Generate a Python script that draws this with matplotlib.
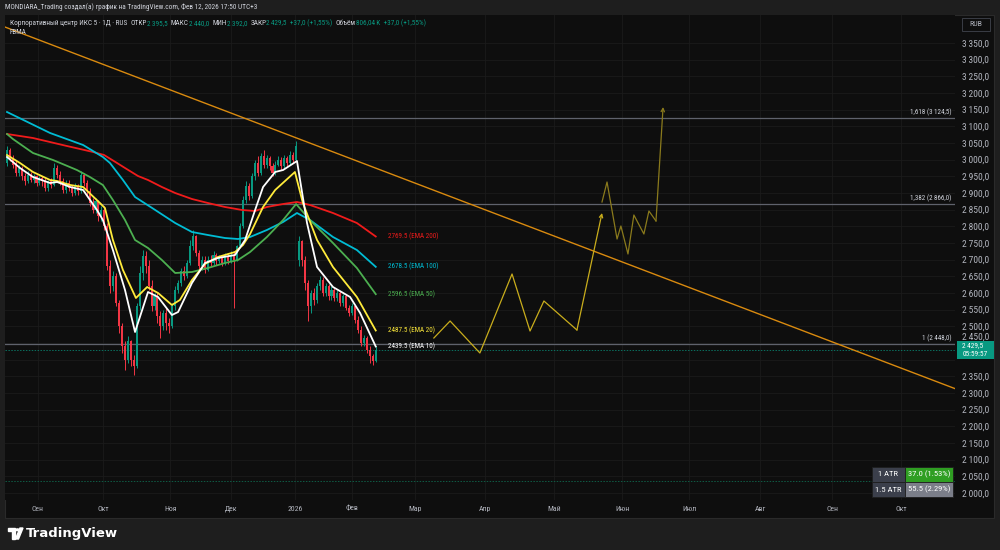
import numpy as np
import matplotlib
matplotlib.use('Agg')
import matplotlib.pyplot as plt
from matplotlib import font_manager as fm
from matplotlib.patches import Rectangle, Polygon, Circle

# daily candles, bar index 0 = first visible bar (end of Aug 2025) ... 125 = Feb 12 2026
opens = [2990, 3030, 3005, 2990, 2960, 2975, 2950, 2935, 2955, 2940,
         2950, 2930, 2945, 2935, 2915, 2935, 2925, 2975, 2955, 2935,
         2910, 2930, 2915, 2900, 2920, 2905, 2955, 2930, 2905, 2870,
         2850, 2875, 2830, 2850, 2800, 2680, 2620, 2650, 2570, 2500,
         2440, 2400, 2455, 2400, 2380, 2560, 2660, 2710, 2680, 2620,
         2560, 2590, 2530, 2500, 2540, 2510, 2500, 2560, 2610, 2630,
         2665, 2650, 2690, 2740, 2770, 2720, 2680, 2700, 2670, 2700,
         2690, 2715, 2695, 2705, 2690, 2710, 2695, 2715, 2700, 2740,
         2800, 2880, 2920, 2890, 2950, 2990, 2960, 3010, 2985, 3005,
         2980, 2960, 2985, 3000, 2980, 3005, 2990, 3015, 3000, 2700,
         2755, 2700, 2630, 2560, 2600, 2580, 2620, 2640, 2600, 2620,
         2590, 2610, 2585, 2600, 2570, 2590, 2555, 2540, 2560, 2520,
         2490, 2450, 2465, 2430, 2410, 2395.5]
highs = [3040, 3035, 3015, 3000, 2985, 2982, 2960, 2965, 2962, 2958,
         2955, 2952, 2950, 2945, 2940, 2945, 2990, 2985, 2965, 2945,
         2940, 2938, 2925, 2930, 2928, 2965, 2960, 2940, 2915, 2885,
         2885, 2880, 2860, 2860, 2810, 2700, 2665, 2660, 2580, 2510,
         2455, 2470, 2460, 2415, 2570, 2680, 2730, 2725, 2700, 2640,
         2600, 2600, 2545, 2550, 2555, 2525, 2570, 2620, 2640, 2675,
         2680, 2700, 2760, 2790, 2775, 2730, 2710, 2710, 2710, 2715,
         2725, 2720, 2715, 2712, 2720, 2718, 2725, 2725, 2745, 2810,
         2890, 2935, 2930, 2960, 3000, 3010, 3020, 3030, 3015, 3012,
         2990, 2995, 3010, 3008, 3015, 3012, 3025, 3022, 3055, 2770,
         2760, 2710, 2640, 2610, 2615, 2630, 2650, 2648, 2630, 2628,
         2620, 2615, 2610, 2605, 2598, 2595, 2565, 2570, 2565, 2530,
         2500, 2475, 2470, 2440, 2418, 2440]
lows = [2980, 2995, 2975, 2950, 2950, 2940, 2925, 2930, 2932, 2930,
        2922, 2925, 2920, 2905, 2905, 2915, 2920, 2945, 2925, 2900,
        2900, 2905, 2890, 2895, 2895, 2900, 2920, 2895, 2860, 2840,
        2840, 2815, 2815, 2790, 2670, 2600, 2605, 2560, 2480, 2420,
        2370, 2390, 2380, 2355, 2375, 2550, 2640, 2660, 2610, 2545,
        2550, 2510, 2465, 2490, 2490, 2480, 2495, 2550, 2600, 2620,
        2640, 2645, 2685, 2730, 2710, 2670, 2670, 2660, 2665, 2680,
        2685, 2685, 2690, 2680, 2685, 2688, 2690, 2555, 2695, 2735,
        2795, 2870, 2880, 2885, 2940, 2950, 2955, 2975, 2975, 2970,
        2950, 2955, 2980, 2970, 2975, 2980, 2985, 2990, 2995, 2680,
        2680, 2610, 2515, 2540, 2565, 2570, 2610, 2590, 2590, 2580,
        2580, 2575, 2575, 2560, 2562, 2548, 2530, 2535, 2510, 2480,
        2440, 2440, 2420, 2390, 2385, 2392]
closes = [3030, 3005, 2985, 2960, 2975, 2950, 2935, 2955, 2940, 2950,
          2930, 2945, 2935, 2915, 2935, 2925, 2975, 2955, 2935, 2910,
          2930, 2915, 2900, 2920, 2905, 2955, 2930, 2905, 2870, 2850,
          2875, 2830, 2850, 2800, 2680, 2620, 2650, 2570, 2500, 2440,
          2400, 2455, 2400, 2380, 2560, 2660, 2710, 2680, 2620, 2560,
          2590, 2530, 2500, 2540, 2510, 2500, 2560, 2610, 2630, 2665,
          2650, 2690, 2740, 2770, 2720, 2680, 2700, 2670, 2700, 2690,
          2715, 2695, 2705, 2690, 2710, 2695, 2715, 2700, 2740, 2800,
          2880, 2920, 2890, 2950, 2990, 2960, 3010, 2985, 3005, 2980,
          2960, 2985, 3000, 2980, 3005, 2990, 3015, 3000, 3040, 2755,
          2700, 2630, 2560, 2600, 2580, 2620, 2640, 2600, 2620, 2590,
          2610, 2585, 2600, 2570, 2590, 2555, 2540, 2560, 2520, 2490,
          2450, 2465, 2430, 2410, 2395, 2429.5]

# moving averages (bar index, price)
ema10_x = [0, 4.4, 8.8, 14.6, 17.0, 21.4, 25.8, 30.5, 32.5, 35.9, 40.0, 43.4, 47.8, 51.2, 55.9, 58.0,
           62.7, 67.1, 71.5, 77.3, 80.7, 84.1, 86.8, 90.9, 93.6, 98.3, 101.7, 105.1, 110.5, 116.3, 119.7, 125]
ema10_y = [3008, 2975, 2948, 2930, 2933, 2918, 2909, 2849, 2819, 2729, 2609, 2483, 2603, 2588, 2534, 2543,
           2630, 2690, 2705, 2714, 2759, 2849, 2918, 2963, 2969, 2996, 2810, 2678, 2618, 2588, 2540, 2439.5]
ema20_x = [0, 4.4, 8.8, 14.6, 17.0, 21.4, 25.8, 31.5, 33.2, 35.9, 39.3, 43.7, 47.5, 51.2, 55.9, 58.6,
           62.7, 67.1, 71.5, 77.3, 80.0, 82.4, 86.8, 90.9, 97.6, 100.3, 105.1, 110.5, 118.6, 125]
ema20_y = [3014, 2990, 2963, 2939, 2936, 2924, 2918, 2870, 2855, 2759, 2669, 2585, 2618, 2600, 2564, 2579,
           2639, 2687, 2708, 2723, 2744, 2777, 2858, 2909, 2963, 2870, 2759, 2678, 2588, 2487.5]
ema50_x = [0, 2.0, 8.8, 15.6, 23.7, 28.1, 32.5, 35.9, 40.0, 43.4, 47.8, 52.5, 57.0, 62.7, 68.1, 73.9,
           78.3, 82.4, 88.1, 93.6, 98.0, 102.7, 110.5, 118.6, 125]
ema50_y = [3077, 3062, 3020, 2999, 2969, 2948, 2924, 2879, 2819, 2759, 2735, 2699, 2660, 2663, 2675, 2690,
           2699, 2723, 2768, 2819, 2867, 2819, 2750, 2675, 2596.5]
ema100_x = [0, 14.6, 25.8, 32.5, 34.9, 39.3, 43.4, 49.2, 57.0, 62.7, 68.1, 73.9, 78.3, 82.4, 88.1, 93.6,
            98.3, 102.7, 110.5, 118.6, 125]
ema100_y = [3143, 3080, 3044, 3008, 2990, 2939, 2888, 2855, 2810, 2783, 2774, 2765, 2762, 2768, 2789, 2813,
            2840, 2819, 2768, 2729, 2678.5]
ema200_x = [0, 8.8, 20.3, 29.2, 32.9, 37.3, 40.0, 44.4, 47.8, 52.5, 57.0, 62.7, 68.1, 73.9, 79.7, 84.1,
            88.1, 93.6, 98.3, 102.7, 110.5, 118.6, 125]
ema200_y = [3077, 3065, 3041, 3023, 3014, 2990, 2975, 2951, 2939, 2918, 2900, 2882, 2870, 2858, 2849, 2846,
            2858, 2867, 2873, 2864, 2840, 2810, 2769.5]

ema_names = ['EMA 200', 'EMA 100', 'EMA 50', 'EMA 20', 'EMA 10']
ema_last = [2769.5, 2678.5, 2596.5, 2487.5, 2439.5]
ema_colors = ['#f01b1b', '#00bcd4', '#4caf50', '#ffeb3b', '#ffffff']

# fibonacci levels
fib_ratio = ['1,618', '1,382', '1']
fib_level = [3124.5, 2866.0, 2448.0]

# trend line and forecast paths
trend_x = [-0.7, 321.4]
trend_y = [3398, 2313]
path1_x = [144.7, 150.2, 160.3, 171.2, 177.3, 182.0, 193.2, 201.7]
path1_y = [2465, 2516, 2420, 2657, 2486, 2576, 2489, 2840]
path2_x = [201.7, 203.4, 206.8, 208.1, 210.5, 212.5, 215.9, 217.6, 220.0, 222.4]
path2_y = [2873, 2933, 2762, 2801, 2717, 2834, 2777, 2846, 2816, 3158]

months = ['Сен', 'Окт', 'Ноя', 'Дек', '2026', 'Фев', 'Мар', 'Апр', 'Май', 'Июн', 'Июл', 'Авг', 'Сен', 'Окт']
month_pos = [10.5, 32.5, 55.3, 75.9, 97.6, 117.0, 138.3, 162.0, 185.4, 208.5, 231.2, 255.3, 279.7, 303.1]

last_close = 2429.5
atr_rows = [('1 ATR', '37.0 (1.53%)'), ('1.5 ATR', '55.5 (2.29%)')]

W, H = 1000, 550
BG = '#1e1e1e'
PANE = '#0e0e0e'
TXT = '#b2b5be'
UP, DOWN = '#089981', '#f23645'


# pick a narrow font if one is installed
def has_font(name):
    try:
        fm.findfont(fm.FontProperties(family=name), fallback_to_default=False)
        return True
    except ValueError:
        return False


narrow = [f for f in ['Liberation Sans Narrow', 'DejaVu Sans Condensed', 'Roboto Condensed', 'Roboto']
          if has_font(f)]
plt.rcParams['font.family'] = narrow[:1] + ['DejaVu Sans']


def rub(v):
    # 2448.0 -> "2 448,0"
    s = '{:.1f}'.format(v).replace('.', ',')
    return s[:-5] + '\u2009' + s[-5:]


fig = plt.figure(figsize=(10, 5.5), dpi=100, facecolor=BG)
renderer = fig.canvas.get_renderer()


def text_w(s, size=10):
    t = fig.text(0, 0, s, fontsize=size)
    w = t.get_window_extent(renderer=renderer).width
    t.remove()
    return w


def fit(s, px):
    # font size giving the pixel width the text has in the screenshot
    return 10 * px / text_w(s)


title = 'MONDIARA_Trading создал(а) график на TradingView.com, Фев 12, 2026 17:50 UTC+3'
fs_title = fit(title, 252)
fs_ytick = fit('3\u2009350,0', 27)
fs_month = fit('2026', 15)
fs_ema = fit('2769.5 (EMA 200)', 51)
fs_fib = fit('1,618 (3\u2009124,5)', 41)
fs_atr = fit('37.0 (1.53%)', 42)
fs_tag = fit('05:59:57', 25)
fs_rub = fit('RUB', 13)

fig.patches.append(Rectangle((5 / W, 1 - 518 / H), 989 / W, 503 / H, transform=fig.transFigure,
                             facecolor=PANE, edgecolor='#2a2a2a', lw=0.8, zorder=-5))

ax = fig.add_axes([5 / W, 1 - 500 / H, 950 / W, 485 / H])
ax.set_zorder(1)
ax.set_facecolor(PANE)
ax.set_xlim(-0.68, 321.36)
ax.set_ylim(1979, 3434)
for s in ax.spines.values():
    s.set_visible(False)

# grid
yt = np.arange(2000, 3351, 50)
for v in yt:
    ax.axhline(v, color='#1b1b1b', lw=0.6, zorder=0)
for p in month_pos:
    ax.axvline(p, color='#1b1b1b', lw=0.6, zorder=0)

# price axis (2400 sits under the price tag, 2450 is nudged up above it)
yx = ax.get_yaxis_transform()
ax.yaxis.tick_right()
ax.set_yticks(yt)
ax.set_yticklabels(['' if v in (2400, 2450) else rub(v) for v in yt])
ax.tick_params(axis='y', length=0, pad=5, labelsize=fs_ytick, labelcolor=TXT)
ax.text(1.0075, 2466, rub(2450), transform=yx, color=TXT, fontsize=fs_ytick, va='center', clip_on=False)
ax.set_xticks(month_pos)
ax.set_xticklabels(months)
ax.tick_params(axis='x', length=0, pad=4, labelsize=fs_month, labelcolor=TXT)

# fib levels
for r, lv in zip(fib_ratio, fib_level):
    ax.axhline(lv, color='#5f626c', lw=0.9, zorder=1)
    ax.text(0.996, lv + 5, '{} ({})'.format(r, rub(lv)), transform=yx,
            ha='right', va='bottom', fontsize=fs_fib, color='#d1d4dc')

ax.axhline(last_close, color=UP, lw=0.7, ls=(0, (1.5, 1.5)), alpha=0.7, zorder=1)
ax.axhline(2036, color='#0f5c45', lw=0.7, ls=(0, (1.5, 1.5)), zorder=1)

# trend line
ax.plot(trend_x, trend_y, color='#d98a0e', lw=1.0, zorder=2)

# candles
idx = np.arange(len(closes))
o = np.array(opens)
c = np.array(closes)
cols = [UP if cc >= oo else DOWN for oo, cc in zip(o, c)]
ax.vlines(idx, lows, highs, colors=cols, lw=0.7, zorder=3)
ax.bar(idx, np.maximum(np.abs(c - o), 2), bottom=np.minimum(o, c), width=0.7, color=cols, zorder=3)

# EMAs
for xs, ys, col in [(ema200_x, ema200_y, ema_colors[0]), (ema100_x, ema100_y, ema_colors[1]),
                    (ema50_x, ema50_y, ema_colors[2]), (ema20_x, ema20_y, ema_colors[3]),
                    (ema10_x, ema10_y, ema_colors[4])]:
    ax.plot(xs, ys, color=col, lw=1.3, zorder=4, solid_joinstyle='round')
for name, val, col in zip(ema_names, ema_last, ema_colors):
    ax.text(129.2, val, '{} ({})'.format(val, name), color=col, fontsize=fs_ema, va='center', ha='left', zorder=5)

# forecast paths
ax.plot(path1_x[:-1], path1_y[:-1], color='#c9ad1c', lw=0.9, zorder=4)
ax.annotate('', xy=(path1_x[-1], path1_y[-1]), xytext=(path1_x[-2], path1_y[-2]),
            arrowprops=dict(arrowstyle='->', color='#c9ad1c', lw=0.9, shrinkA=0, shrinkB=0, mutation_scale=6))
ax.plot(path2_x[:-1], path2_y[:-1], color='#8a7a1c', lw=0.9, zorder=4)
ax.annotate('', xy=(path2_x[-1], path2_y[-1]), xytext=(path2_x[-2], path2_y[-2]),
            arrowprops=dict(arrowstyle='->', color='#8a7a1c', lw=0.9, shrinkA=0, shrinkB=0, mutation_scale=6))

# current price tag
ax.add_patch(Rectangle((1.002, last_close - 26), 0.039, 52, transform=yx, facecolor=UP,
                       edgecolor='none', clip_on=False, zorder=6))
ax.text(1.0075, last_close + 12, rub(last_close), transform=yx, color='white', fontsize=fs_tag,
        va='center', clip_on=False, zorder=7)
ax.text(1.0075, last_close - 13, '05:59:57', transform=yx, color='white', fontsize=fs_tag,
        va='center', clip_on=False, zorder=7)

# ATR table
cells_y = [(500 - 482) / 485, (500 - 497) / 485]
hgt = 15 / 485
xl, xm, xr = (872 - 5) / 950, (905 - 5) / 950, (953 - 5) / 950
right_bg = ['#2f9e22', '#7b7e89']
for (lab, val), y0, rb in zip(atr_rows, cells_y, right_bg):
    ax.add_patch(Rectangle((xl, y0), xm - xl, hgt, transform=ax.transAxes, facecolor='#3b3f4b',
                           edgecolor='#1e1e1e', lw=0.6, zorder=6))
    ax.add_patch(Rectangle((xm, y0), xr - xm, hgt, transform=ax.transAxes, facecolor=rb,
                           edgecolor='#1e1e1e', lw=0.6, zorder=6))
    ax.text((xl + xm) / 2, y0 + hgt / 2, lab, transform=ax.transAxes, color='white', fontsize=fs_atr,
            ha='center', va='center', zorder=7)
    ax.text((xm + xr) / 2, y0 + hgt / 2, val, transform=ax.transAxes, color='white', fontsize=fs_atr,
            ha='center', va='center', zorder=7)

# RUB box
fig.patches.append(Rectangle((962 / W, 1 - 31 / H), 28 / W, 13 / H, transform=fig.transFigure,
                             facecolor=PANE, edgecolor='#3a3d45', lw=0.7, zorder=2))
fig.text(976 / W, 1 - 24.5 / H, 'RUB', color=TXT, fontsize=fs_rub, ha='center', va='center', zorder=3)

# header
fig.text(5 / W, 1 - 7 / H, title, color='#d1d4dc', fontsize=fs_title, va='center', zorder=3)
pieces = [('Корпоративный центр ИКС 5 · 1Д · RUS  ', '#d1d4dc'), ('ОТКР', '#d1d4dc'), ('2\u2009395,5  ', UP),
          ('МАКС', '#d1d4dc'), ('2\u2009440,0  ', UP), ('МИН', '#d1d4dc'), ('2\u2009392,0  ', UP),
          ('ЗАКР', '#d1d4dc'), ('2\u2009429,5  +37,0 (+1,55%)  ', UP), ('Объём', '#d1d4dc'),
          ('806,04\u2009K  +37,0 (+1,55%)', UP)]
fs_line2 = 10 * 417 / sum(text_w(s) for s, _ in pieces)
x = 10 / W
for s, col in pieces:
    t = fig.text(x, 1 - 23.5 / H, s, color=col, fontsize=fs_line2, va='center', zorder=3)
    x += t.get_window_extent(renderer=renderer).width / W
fig.text(10 / W, 1 - 32.5 / H, 'FBMA', color='#d1d4dc', fontsize=fs_line2, va='center', zorder=3)


# TradingView logo
def fp(px, py):
    return (px / W, 1 - py / H)


fig.patches.append(Polygon([fp(8, 528), fp(15, 528), fp(15, 539), fp(12, 539), fp(12, 531), fp(8, 531)],
                           closed=True, transform=fig.transFigure, color='white'))
fig.patches.append(Circle(fp(17.5, 529.8), 1.6 / W, transform=fig.transFigure, color='white'))
fig.patches.append(Polygon([fp(15.5, 539), fp(18.5, 539), fp(23, 528), fp(20, 528)],
                           closed=True, transform=fig.transFigure, color='white'))
fig.text(26 / W, 1 - 533.5 / H, 'TradingView', color='white', fontsize=9.5, fontweight='bold', va='center',
         family=['DejaVu Sans'])

fig.savefig('out.png', dpi=100, facecolor=BG)
